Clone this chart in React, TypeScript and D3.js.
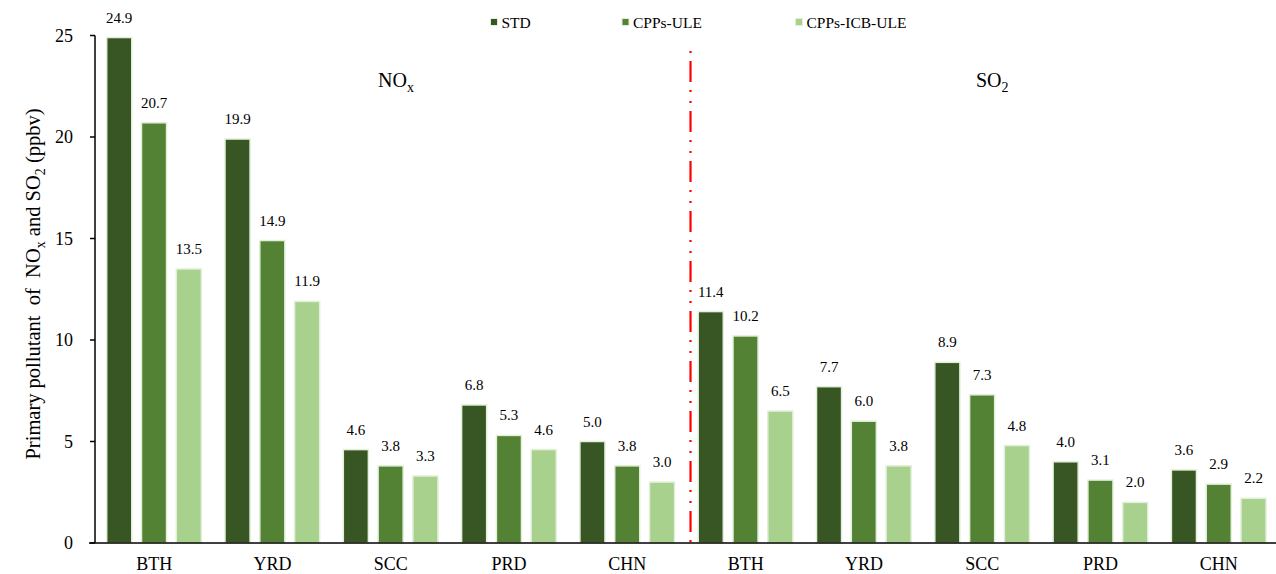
import React from 'react';
import * as d3 from 'd3';

// Regions shown along the x axis: first five for NOx, last five for SO2
const regions = ['BTH', 'YRD', 'SCC', 'PRD', 'CHN', 'BTH', 'YRD', 'SCC', 'PRD', 'CHN'];
const seriesNames = ['STD', 'CPPs-ULE', 'CPPs-ICB-ULE'];

// Values in ppbv (NOx for the first five, SO2 for the next five)
const stdValues = [24.9, 19.9, 4.6, 6.8, 5.0, 11.4, 7.7, 8.9, 4.0, 3.6];
const uleValues = [20.7, 14.9, 3.8, 5.3, 3.8, 10.2, 6.0, 7.3, 3.1, 2.9];
const icbValues = [13.5, 11.9, 3.3, 4.6, 3.0, 6.5, 3.8, 4.8, 2.0, 2.2];

const yTicks = [0, 5, 10, 15, 20, 25];

const colors = ['#375623', '#548235', '#a9d18e'];
const FONT = "'Liberation Serif', 'Times New Roman', Times, serif";

const W = 1276;
const H = 574;
const margin = {left: 95, right: -2, top: 35.5, bottom: 31};

export default function App() {
  const series = [stdValues, uleValues, icbValues];

  const x0 = d3
    .scaleBand<number>()
    .domain(regions.map((_, i) => i))
    .range([margin.left, W - margin.right]);

  const bw = x0.bandwidth();
  const x1 = d3
    .scaleBand<number>()
    .domain(seriesNames.map((_, i) => i))
    .range([bw * 0.099, bw * 0.899])
    .paddingInner(0.28);

  const y = d3
    .scaleLinear()
    .domain([0, 25])
    .range([H - margin.bottom, margin.top]);

  const y0 = y(0);
  // divider between the NOx and SO2 halves
  const divX = (x0(5) || 0) + bw * 0.034;

  return (
    <svg
      width={W}
      height={H}
      style={{position: 'absolute', left: 0, top: 0, background: '#fff', fontFamily: FONT}}
    >
      {/* bars */}
      {series.map((vals, s) =>
        vals.map((v, i) => {
          const bx = (x0(i) || 0) + (x1(s) || 0);
          return (
            <rect
              key={`b${s}-${i}`}
              x={bx}
              y={y(v)}
              width={x1.bandwidth()}
              height={y0 - y(v)}
              fill={colors[s]}
              stroke="#e2efda"
              strokeWidth={1.5}
            />
          );
        }),
      )}

      {/* value labels */}
      {series.map((vals, s) =>
        vals.map((v, i) => (
          <text
            key={`l${s}-${i}`}
            x={(x0(i) || 0) + (x1(s) || 0) + x1.bandwidth() / 2}
            y={y(v) - 15}
            textAnchor="middle"
            fontSize={15}
            fill="#000"
          >
            {v.toFixed(1)}
          </text>
        )),
      )}

      {/* axes */}
      <line x1={margin.left} x2={margin.left} y1={y(25)} y2={y0} stroke="#000" strokeWidth={1.5} />
      <line x1={margin.left - 6} x2={W} y1={y0} y2={y0} stroke="#000" strokeWidth={1.5} />
      {yTicks.map((t) => (
        <g key={`t${t}`}>
          <line x1={margin.left - 5} x2={margin.left} y1={y(t)} y2={y(t)} stroke="#000" strokeWidth={1.5} />
          <text x={73} y={y(t)} dy="0.35em" textAnchor="end" fontSize={18}>
            {t}
          </text>
        </g>
      ))}
      {regions.map((r, i) => (
        <text key={`c${i}`} x={(x0(i) || 0) + bw / 2} y={y0 + 27} textAnchor="middle" fontSize={18}>
          {r}
        </text>
      ))}

      {/* y axis title */}
      <text
        transform={`translate(40,284) rotate(-90)`}
        textAnchor="middle"
        fontSize={20.5}
        style={{whiteSpace: 'pre'}}
      >
        {'Primary pollutant  of  NO'}
        <tspan fontSize={14} dy={5}>x</tspan>
        <tspan dy={-5}>{' and SO'}</tspan>
        <tspan fontSize={14} dy={5}>2</tspan>
        <tspan dy={-5}>{' (ppbv)'}</tspan>
      </text>

      {/* divider */}
      <line
        x1={divX}
        x2={divX}
        y1={51}
        y2={y0}
        stroke="#ff0000"
        strokeWidth={2.2}
        strokeDasharray="2,8,21,8,2,9"
      />

      {/* panel titles */}
      <text x={378} y={87} fontSize={20}>
        NO<tspan fontSize={14} dy={5}>x</tspan>
      </text>
      <text x={976} y={87} fontSize={20}>
        SO<tspan fontSize={14} dy={5}>2</tspan>
      </text>

      {/* legend */}
      {seriesNames.map((n, s) => {
        const lx = [490.5, 622, 795.5][s];
        return (
          <g key={`lg${s}`}>
            <rect x={lx} y={18.5} width={7} height={7} fill={colors[s]} stroke="#e2efda" strokeWidth={1} />
            <text x={lx + 11} y={27.5} fontSize={15.5}>
              {n}
            </text>
          </g>
        );
      })}
    </svg>
  );
}
